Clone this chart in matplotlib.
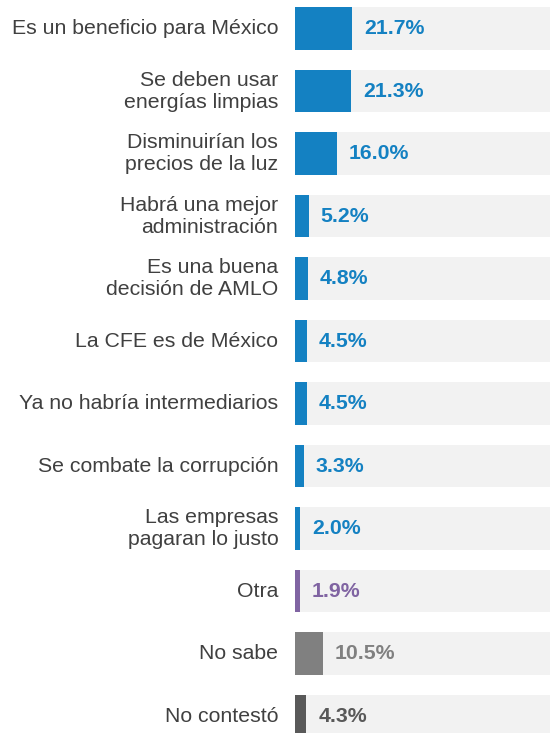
import matplotlib.pyplot as plt

categories = [
    "Es un beneficio para México",
    "Se deben usar\nenergías limpias",
    "Disminuirían los\nprecios de la luz",
    "Habrá una mejor\nadministración",
    "Es una buena\ndecisión de AMLO",
    "La CFE es de México",
    "Ya no habría intermediarios",
    "Se combate la corrupción",
    "Las empresas\npagaran lo justo",
    "Otra",
    "No sabe",
    "No contestó",
]
values = [21.7, 21.3, 16.0, 5.2, 4.8, 4.5, 4.5, 3.3, 2.0, 1.9, 10.5, 4.3]
labels = ["21.7%", "21.3%", "16.0%", "5.2%", "4.8%", "4.5%", "4.5%", "3.3%",
          "2.0%", "1.9%", "10.5%", "4.3%"]

blue = "#1481C2"
colors = [blue] * 9 + ["#8064A2", "#808080", "#595959"]

plt.rcParams['font.family'] = ['Liberation Sans', 'DejaVu Sans']

fig = plt.figure(figsize=(5.5, 7.33), dpi=100)
ax = fig.add_axes([295 / 550, 0, 255 / 550, 1])

y = list(range(len(values)))
ax.barh(y, [100] * len(values), height=0.68, color="#F2F2F2", zorder=1)
ax.barh(y, values, height=0.68, color=colors, zorder=2)

for i in y:
    ax.annotate(labels[i], (values[i], i), xytext=(8.5, 0), textcoords="offset points",
                ha="left", va="center", fontsize=15.3, fontweight="bold",
                color=colors[i], zorder=3)
    ax.annotate(categories[i], (0, i), xytext=(-12, 0), textcoords="offset points",
                ha="right", va="center", fontsize=15.3, color="#404040",
                linespacing=1.2, annotation_clip=False)

ax.set_xlim(0, 96.6)
ax.set_ylim(11.27, -0.456)
ax.axis("off")

fig.savefig("out.png", dpi=100)
